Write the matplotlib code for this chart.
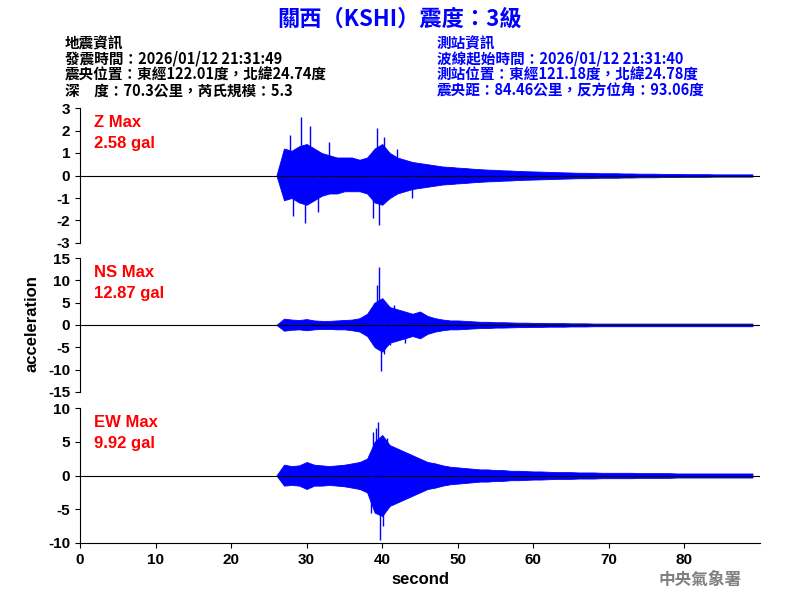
import matplotlib
matplotlib.use("Agg")
import matplotlib.pyplot as plt

plt.rcParams['font.family'] = ['Noto Sans CJK TC', 'DejaVu Sans']

# envelope of the records, one value per second from 26 s to 89 s
sec = list(range(26, 90))
z_up = [0.0, 1.2, 1.1, 1.3, 1.4, 1.2, 1.0, 0.9, 0.8, 0.8, 0.8, 0.7, 0.8, 1.2, 1.4, 1.0, 0.8, 0.7, 0.6, 0.55,
        0.5, 0.45, 0.4, 0.38, 0.35, 0.33, 0.3, 0.28, 0.26, 0.25, 0.23, 0.22, 0.2, 0.19, 0.18, 0.17, 0.16, 0.15, 0.14, 0.13,
        0.12, 0.12, 0.11, 0.1, 0.1, 0.1, 0.09, 0.09, 0.08, 0.08, 0.08, 0.07, 0.07, 0.07, 0.06, 0.06, 0.06, 0.06, 0.05, 0.05,
        0.05, 0.05, 0.05, 0.05]
z_lo = [0.0, -1.1, -1.0, -1.2, -1.3, -1.1, -0.9, -0.8, -0.8, -0.7, -0.7, -0.7, -0.8, -1.2, -1.3, -1.0, -0.8, -0.7, -0.6, -0.55,
        -0.5, -0.45, -0.4, -0.38, -0.35, -0.33, -0.3, -0.28, -0.26, -0.25, -0.23, -0.22, -0.2, -0.19, -0.18, -0.17, -0.16, -0.15, -0.14, -0.13,
        -0.12, -0.12, -0.11, -0.1, -0.1, -0.1, -0.09, -0.09, -0.08, -0.08, -0.08, -0.07, -0.07, -0.07, -0.06, -0.06, -0.06, -0.06, -0.05, -0.05,
        -0.05, -0.05, -0.05, -0.05]
ns_up = [0.0, 1.4, 1.2, 1.1, 1.3, 1.0, 0.9, 0.9, 1.0, 1.1, 1.2, 1.5, 2.5, 5.0, 6.0, 4.0, 3.5, 3.0, 2.5, 3.0,
         2.0, 1.5, 1.2, 1.0, 1.0, 0.9, 0.8, 0.7, 0.7, 0.6, 0.6, 0.55, 0.5, 0.5, 0.45, 0.45, 0.4, 0.4, 0.4, 0.35,
         0.35, 0.35, 0.3, 0.3, 0.3, 0.3, 0.3, 0.3, 0.3, 0.3, 0.3, 0.3, 0.3, 0.3, 0.3, 0.3, 0.3, 0.3, 0.3, 0.3,
         0.3, 0.3, 0.3, 0.3]
ns_lo = [0.0, -1.3, -1.1, -1.0, -1.2, -1.0, -0.9, -0.9, -1.0, -1.0, -1.2, -1.5, -2.5, -5.0, -6.0, -4.0, -3.5, -3.0, -2.5, -3.0,
         -2.0, -1.5, -1.2, -1.0, -1.0, -0.9, -0.8, -0.7, -0.7, -0.6, -0.6, -0.55, -0.5, -0.5, -0.45, -0.45, -0.4, -0.4, -0.4, -0.35,
         -0.35, -0.35, -0.3, -0.3, -0.3, -0.3, -0.3, -0.3, -0.3, -0.3, -0.3, -0.3, -0.3, -0.3, -0.3, -0.3, -0.3, -0.3, -0.3, -0.3,
         -0.3, -0.3, -0.3, -0.3]
ew_up = [0.0, 1.6, 1.4, 1.5, 2.0, 1.6, 1.5, 1.4, 1.5, 1.6, 1.8, 2.0, 2.5, 5.0, 6.0, 4.5, 4.0, 3.5, 3.0, 2.5,
         2.0, 1.8, 1.5, 1.3, 1.2, 1.1, 1.0, 0.9, 0.9, 0.8, 0.8, 0.7, 0.7, 0.65, 0.6, 0.6, 0.55, 0.5, 0.5, 0.5,
         0.45, 0.45, 0.45, 0.4, 0.4, 0.4, 0.4, 0.4, 0.35, 0.35, 0.35, 0.35, 0.35, 0.3, 0.3, 0.3, 0.3, 0.3, 0.3, 0.3,
         0.3, 0.3, 0.3, 0.3]
ew_lo = [0.0, -1.5, -1.4, -1.5, -2.0, -1.5, -1.5, -1.4, -1.5, -1.6, -1.8, -2.0, -2.5, -5.5, -6.0, -4.5, -4.0, -3.5, -3.0, -2.5,
         -2.0, -1.8, -1.5, -1.3, -1.2, -1.1, -1.0, -0.9, -0.9, -0.8, -0.8, -0.7, -0.7, -0.65, -0.6, -0.6, -0.55, -0.5, -0.5, -0.5,
         -0.45, -0.45, -0.45, -0.4, -0.4, -0.4, -0.4, -0.4, -0.35, -0.35, -0.35, -0.35, -0.35, -0.3, -0.3, -0.3, -0.3, -0.3, -0.3, -0.3,
         -0.3, -0.3, -0.3, -0.3]

# individual peak spikes: (time, value)
z_spikes = [(29.2, 2.58), (29.8, -2.1), (30.5, 2.2), (27.8, 1.8), (28.2, -1.8), (31.5, -1.6), (33.0, 1.5),
            (38.8, -1.9), (39.3, 2.1), (39.6, -2.2), (40.3, 1.7), (42.0, 1.2), (44.0, -1.0)]
ns_spikes = [(39.6, 12.87), (39.8, -10.3), (39.3, 9.0), (40.2, -6.5), (38.9, 5.0), (41.5, 4.5), (41.0, -4.5), (43.0, -4.0)]
ew_spikes = [(39.5, 7.9), (39.7, -9.5), (39.2, 7.0), (40.1, -7.5), (38.8, 6.5), (40.6, 5.5), (38.5, -5.5), (41.3, -4.0)]

panels = [
    ("Z Max", "2.58 gal", z_up, z_lo, z_spikes, (-3, 3), [-3, -2, -1, 0, 1, 2, 3]),
    ("NS Max", "12.87 gal", ns_up, ns_lo, ns_spikes, (-15, 15), [-15, -10, -5, 0, 5, 10, 15]),
    ("EW Max", "9.92 gal", ew_up, ew_lo, ew_spikes, (-10, 10), [-10, -5, 0, 5, 10]),
]
rects = [(0.1, 0.595, 0.85, 0.225), (0.1, 0.347, 0.85, 0.223), (0.1, 0.095, 0.85, 0.225)]
lat = 'Liberation Sans'

fig = plt.figure(figsize=(8, 6), dpi=100)
for i, (name, mx, up, lo, spikes, ylim, ticks) in enumerate(panels):
    ax = fig.add_axes(rects[i])
    ax.axhline(0, color='black', lw=0.8)
    ax.fill_between(sec, lo, up, color='blue', lw=0.6)
    for t, v in spikes:
        ax.vlines(t, 0, v, color='blue', lw=1.0)
    ax.set_xlim(0, 90)
    ax.set_ylim(*ylim)
    ax.set_yticks(ticks)
    ax.set_yticklabels([str(t) for t in ticks], family=lat, weight='bold', fontsize=11)
    for s in ['top', 'right']:
        ax.spines[s].set_visible(False)
    if i < 2:
        ax.spines['bottom'].set_visible(False)
        ax.set_xticks([])
    else:
        ax.set_xticks(range(0, 90, 10))
        ax.set_xticklabels([str(t) for t in range(0, 90, 10)], family=lat, weight='bold', fontsize=11)
        ax.set_xlabel("second", fontsize=12, family=lat, weight='bold')
    ax.text(0.02, 0.95, name, transform=ax.transAxes, color='red', fontsize=12, va='top', family=lat, weight='bold')
    ax.text(0.02, 0.79, mx, transform=ax.transAxes, color='red', fontsize=12, va='top', family=lat, weight='bold')

fig.text(0.04, 0.46, "acceleration", rotation=90, va='center', ha='center', fontsize=12, family=lat, weight='bold')

fig.text(0.5, 0.968, "關西（KSHI）震度：3級", color='blue', fontsize=16, weight='bold', ha='center', va='center')
left = ["地震資訊", "發震時間：2026/01/12 21:31:49", "震央位置：東經122.01度，北緯24.74度", "深　度：70.3公里，芮氏規模：5.3"]
right = ["測站資訊", "波線起始時間：2026/01/12 21:31:40", "測站位置：東經121.18度，北緯24.78度", "震央距：84.46公里，反方位角：93.06度"]
for k in range(4):
    y = 1 - (43 + 16 * k) / 600
    fig.text(65 / 800, y, left[k], fontsize=10.5, weight='bold', color='black', va='center')
    fig.text(437 / 800, y, right[k], fontsize=10.5, weight='bold', color='blue', va='center')

fig.text(700 / 800, 1 - 580 / 600, "中央氣象署", color='grey', fontsize=12, weight='bold', ha='center', va='center')

fig.savefig("out.png", dpi=100)
